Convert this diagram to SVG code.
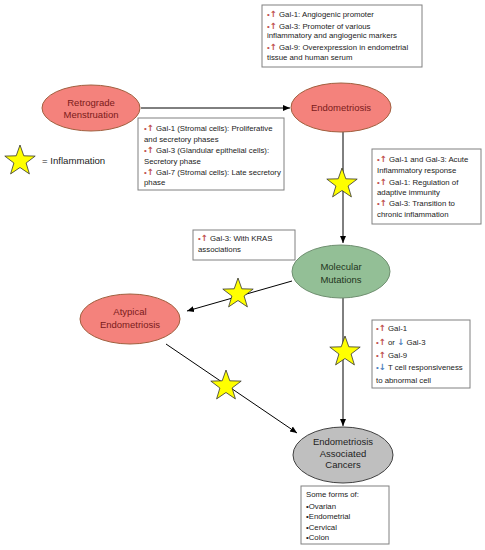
<svg xmlns="http://www.w3.org/2000/svg" width="485" height="550" viewBox="0 0 485 550">
<defs>
<marker id="ah" markerWidth="8" markerHeight="8" refX="7" refY="4" orient="auto" markerUnits="userSpaceOnUse">
<path d="M0,1 L7,4 L0,7 Z" fill="#000"/>
</marker>
<path id="star" d="M0,-16 L3.8,-5.2 L15.2,-4.9 L6.1,2 L9.4,12.9 L0,6.5 L-9.4,12.9 L-6.1,2 L-15.2,-4.9 L-3.8,-5.2 Z"/>
</defs>
<style>
.box{fill:#fff;stroke:#808080;stroke-width:1}
.t{font-family:"Liberation Sans",Arial,sans-serif;font-size:7.8px;fill:#222}
.lbl{font-family:"Liberation Sans",Arial,sans-serif;font-size:9.5px;text-anchor:middle}
.red{fill:#F4827C;stroke:#A0603F;stroke-width:1}
.rt{fill:#7A1A1A}
.up{fill:#C0504D;font-family:"DejaVu Sans",sans-serif;font-weight:bold;font-size:8.5px}
.dn{fill:#4F81BD;font-family:"DejaVu Sans",sans-serif;font-weight:bold;font-size:8.5px}
.bu{fill:#C0504D}
.bb{fill:#4F81BD}
.ln{stroke:#000;stroke-width:1;fill:none}
.st{fill:#FFFF00;stroke:#333;stroke-width:0.8}
</style>
<rect width="485" height="550" fill="#fff"/>

<g id="connectors">
<line class="ln" x1="141" y1="108" x2="290" y2="108" marker-end="url(#ah)"/>
<line class="ln" x1="343" y1="132" x2="343" y2="243" marker-end="url(#ah)"/>
<line class="ln" x1="292" y1="281" x2="187" y2="311" marker-end="url(#ah)"/>
<line class="ln" x1="166" y1="344" x2="297" y2="433" marker-end="url(#ah)"/>
<line class="ln" x1="343" y1="298" x2="343" y2="426" marker-end="url(#ah)"/>
</g>

<g id="stars">
<use href="#star" class="st" x="342" y="184"/>
<use href="#star" class="st" x="238" y="294"/>
<use href="#star" class="st" x="226" y="386"/>
<use href="#star" class="st" x="345" y="352"/>
</g>

<g id="legend">
<use href="#star" class="st" x="20" y="161"/>
<text class="t" x="42" y="164" style="font-size:9.6px">= Inflammation</text>
</g>

<g id="n-retrograde">
<ellipse class="red" cx="91" cy="108" rx="49" ry="23"/>
<text class="lbl rt" x="91" y="106">Retrograde</text>
<text class="lbl rt" x="91" y="118">Menstruation</text>
</g>

<g id="n-endometriosis">
<ellipse class="red" cx="341" cy="107.5" rx="50" ry="24.5"/>
<text class="lbl rt" x="341" y="111">Endometriosis</text>
</g>

<g id="n-molecular">
<ellipse cx="341" cy="271.5" rx="49" ry="26.5" fill="#93BF96" stroke="#6F8F70" stroke-width="1"/>
<text class="lbl" x="341" y="270" fill="#1F3520">Molecular</text>
<text class="lbl" x="341" y="283" fill="#1F3520">Mutations</text>
</g>

<g id="n-atypical">
<ellipse class="red" cx="130" cy="319" rx="50" ry="25"/>
<text class="lbl rt" x="130" y="315">Atypical</text>
<text class="lbl rt" x="130" y="328">Endometriosis</text>
</g>

<g id="n-cancers">
<ellipse cx="343" cy="455" rx="50" ry="28" fill="#BFBFBF" stroke="#404040" stroke-width="1"/>
<text class="lbl" x="343" y="445" fill="#222">Endometriosis</text>
<text class="lbl" x="343" y="457" fill="#222">Associated</text>
<text class="lbl" x="343" y="468" fill="#222">Cancers</text>
</g>

<g id="box-top">
<rect class="box" x="262" y="5" width="160" height="62"/>
<text class="t" x="267" y="17"><tspan class="bu">•</tspan><tspan class="up">↑</tspan> Gal-1: Angiogenic promoter</text>
<text class="t" x="267" y="28.5"><tspan class="bu">•</tspan><tspan class="up">↑</tspan> Gal-3: Promoter of various</text>
<text class="t" x="267" y="37.5">inflammatory and angiogenic markers</text>
<text class="t" x="267" y="49.5"><tspan class="bu">•</tspan><tspan class="up">↑</tspan> Gal-9: Overexpression in endometrial</text>
<text class="t" x="267" y="60">tissue and human serum</text>
</g>

<g id="box-phases">
<rect class="box" x="138" y="118" width="146" height="72"/>
<text class="t" x="144" y="131"><tspan class="bu">•</tspan><tspan class="up">↑</tspan> Gal-1 (Stromal cells): Proliferative</text>
<text class="t" x="144" y="142">and secretory phases</text>
<text class="t" x="144" y="153"><tspan class="bu">•</tspan><tspan class="up">↑</tspan> Gal-3 (Glandular epithelial cells):</text>
<text class="t" x="144" y="163.5">Secretory phase</text>
<text class="t" x="144" y="174.5"><tspan class="bu">•</tspan><tspan class="up">↑</tspan> Gal-7 (Stromal cells): Late secretory</text>
<text class="t" x="144" y="185">phase</text>
</g>

<g id="box-acute">
<rect class="box" x="372" y="149" width="109" height="75"/>
<text class="t" x="377" y="162"><tspan class="bu">•</tspan><tspan class="up">↑</tspan> Gal-1 and Gal-3: Acute</text>
<text class="t" x="377" y="173">Inflammatory response</text>
<text class="t" x="377" y="184.5"><tspan class="bu">•</tspan><tspan class="up">↑</tspan> Gal-1: Regulation of</text>
<text class="t" x="377" y="195">adaptive immunity</text>
<text class="t" x="377" y="206"><tspan class="bu">•</tspan><tspan class="up">↑</tspan> Gal-3: Transition to</text>
<text class="t" x="377" y="216.5">chronic inflammation</text>
</g>

<g id="box-kras">
<rect class="box" x="193" y="230" width="102" height="30"/>
<text class="t" x="198" y="241"><tspan class="bu">•</tspan><tspan class="up">↑</tspan> Gal-3: With KRAS</text>
<text class="t" x="198" y="252" fill="#A01830">associations</text>
</g>

<g id="box-mut">
<rect class="box" x="372" y="320" width="98" height="68"/>
<text class="t" x="376" y="331"><tspan class="bu">•</tspan><tspan class="up">↑</tspan> Gal-1</text>
<text class="t" x="376" y="344.5"><tspan class="bu">•</tspan><tspan class="up">↑</tspan> or <tspan class="dn">↓</tspan> Gal-3</text>
<text class="t" x="376" y="357.5"><tspan class="bu">•</tspan><tspan class="up">↑</tspan> Gal-9</text>
<text class="t" x="376" y="370"><tspan class="bb">•</tspan><tspan class="dn">↓</tspan> T cell responsiveness</text>
<text class="t" x="376" y="382.5">to abnormal cell</text>
</g>

<g id="box-forms">
<rect class="box" x="301" y="486" width="88" height="58"/>
<text class="t" x="306" y="497">Some forms of:</text>
<text class="t" x="306" y="508.5">•Ovarian</text>
<text class="t" x="306" y="519">•Endometrial</text>
<text class="t" x="306" y="529.5">•Cervical</text>
<text class="t" x="306" y="540">•Colon</text>
</g>
</svg>
